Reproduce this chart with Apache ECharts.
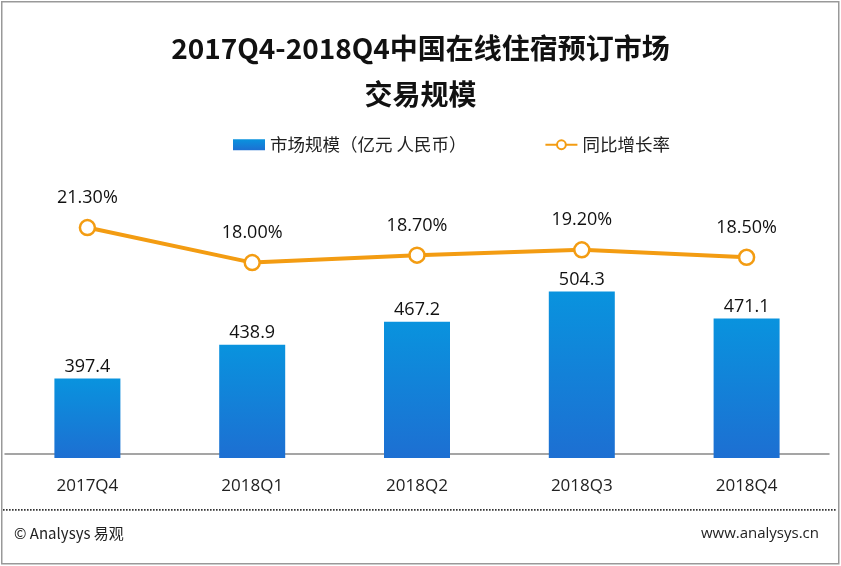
<!DOCTYPE html>
<html>
<head>
<meta charset="utf-8">
<script src="https://cdn.jsdelivr.net/npm/echarts@6/dist/echarts.min.js"></script>
<style>
html,body{margin:0;padding:0;background:#fff;}
#c{width:841px;height:566px;}
</style>
</head>
<body>
<div id="c"></div>
<script>
const categories = ['2017Q4', '2018Q1', '2018Q2', '2018Q3', '2018Q4'];
const marketSize = [397.4, 438.9, 467.2, 504.3, 471.1];
const growthRate = [21.30, 18.00, 18.70, 19.20, 18.50];
const seriesNames = ['市场规模（亿元 人民币）', '同比增长率'];
const titleLines = ['2017Q4-2018Q4中国在线住宿预订市场', '交易规模'];

const chart = echarts.init(document.getElementById('c'));
const cjk = '"Noto Sans CJK SC", "Open Sans", sans-serif';
const latin = '"Open Sans", "Noto Sans CJK SC", sans-serif';

// dotted footer separator built from tiny dots
const dots = [];
for (let x = 3; x < 836; x += 3) {
  dots.push({
    type: 'rect',
    shape: { x: x, y: 509, width: 1.6, height: 1.8 },
    style: { fill: '#333' },
    silent: true
  });
}

chart.setOption({
  backgroundColor: '#fff',
  animation: false,
  title: {
    text: titleLines.join('\n'),
    left: 'center',
    top: 20,
    textStyle: {
      fontFamily: cjk,
      fontWeight: 'bold',
      fontSize: 28,
      lineHeight: 46,
      color: '#111'
    }
  },
  legend: {
    left: 228,
    top: 131,
    itemGap: 78,
    itemWidth: 32,
    itemHeight: 11,
    textStyle: { fontFamily: cjk, fontSize: 17.5, color: '#222' },
    data: [
      { name: seriesNames[0], icon: 'rect' },
      { name: seriesNames[1] }
    ]
  },
  grid: { left: 5, right: 12, top: 132, bottom: 108, containLabel: false },
  xAxis: {
    type: 'category',
    data: categories,
    axisLine: { lineStyle: { color: '#888', width: 1.5 } },
    axisTick: { show: false },
    axisLabel: { fontFamily: latin, fontSize: 17, color: '#222', margin: 20 }
  },
  yAxis: [
    { type: 'value', min: 300, max: 700, show: false, splitLine: { show: false } },
    { type: 'value', min: -0.4, max: 30.3, show: false, splitLine: { show: false } }
  ],
  series: [
    {
      name: seriesNames[0],
      type: 'bar',
      yAxisIndex: 0,
      barWidth: 66,
      data: marketSize,
      itemStyle: {
        color: new echarts.graphic.LinearGradient(0, 0, 0, 1, [
          { offset: 0, color: '#0993de' },
          { offset: 1, color: '#1d6fd2' }
        ])
      },
      label: {
        show: true,
        position: 'top',
        distance: 3,
        fontFamily: latin,
        fontSize: 18,
        color: '#111'
      }
    },
    {
      name: seriesNames[1],
      type: 'line',
      yAxisIndex: 1,
      data: growthRate,
      symbol: 'circle',
      symbolSize: 15,
      lineStyle: { color: '#f39c12', width: 4 },
      itemStyle: { color: '#fff', borderColor: '#f39c12', borderWidth: 2.5 },
      label: {
        show: true,
        position: 'top',
        distance: 12,
        fontFamily: latin,
        fontSize: 18,
        color: '#111',
        formatter: p => p.value.toFixed(2) + '%'
      }
    }
  ],
  graphic: {
    elements: [
      {
        type: 'rect',
        left: 1,
        top: 1,
        shape: { width: 837, height: 562 },
        style: { fill: 'transparent', stroke: '#999', lineWidth: 1.5 },
        silent: true
      },
      {
        type: 'group',
        silent: true,
        children: dots
      },
      {
        type: 'text',
        left: 14,
        top: 526,
        style: { text: '© Analysys 易观', fontFamily: cjk, fontSize: 15, fill: '#222' }
      },
      {
        type: 'text',
        right: 22,
        top: 526,
        style: { text: 'www.analysys.cn', fontFamily: latin, fontSize: 15, fill: '#222' }
      }
    ]
  }
});
</script>
</body>
</html>
